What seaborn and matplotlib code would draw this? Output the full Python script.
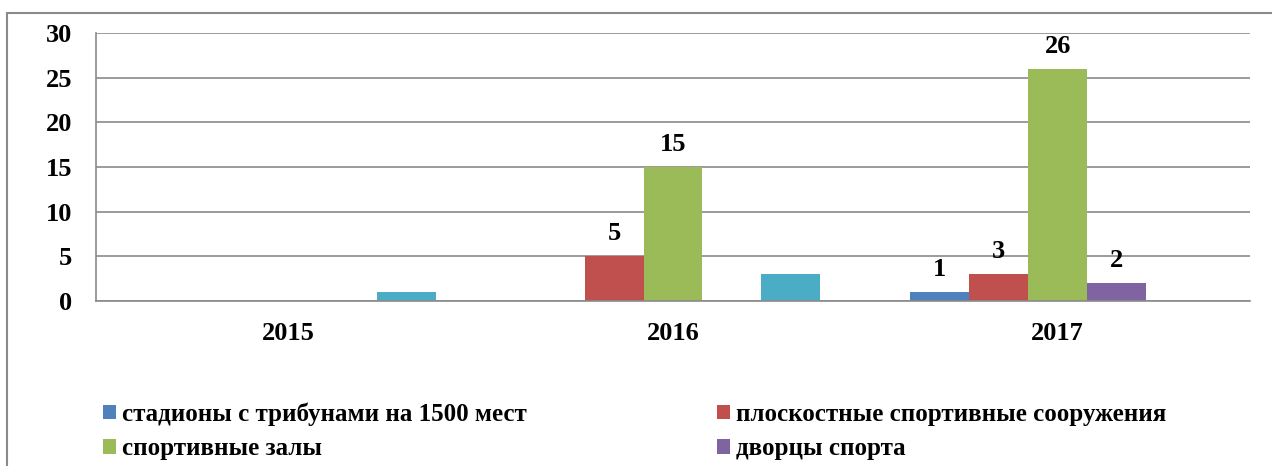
import pandas as pd
import matplotlib.pyplot as plt
import seaborn as sns
from matplotlib.patches import Rectangle, Patch

years = ['2015', '2016', '2017']
series = ['стадионы с трибунами на 1500 мест',
          'плоскостные спортивные сооружения',
          'спортивные залы',
          'дворцы спорта',
          'Ряд 5']
stadiums = [0, 0, 1]
flat_sites = [0, 5, 3]
halls = [0, 15, 26]
palaces = [0, 0, 2]
extra = [1, 3, 0]
colors = ['#4F81BD', '#C0504D', '#9BBB59', '#8064A2', '#4BACC6']

rows = []
for name, vals in zip(series, [stadiums, flat_sites, halls, palaces, extra]):
    for y, v in zip(years, vals):
        rows.append({'year': y, 'series': name, 'value': v})
data = pd.DataFrame(rows)

sns.set_style('white')
plt.rcParams['font.family'] = ['Liberation Serif', 'DejaVu Serif']
plt.rcParams['font.weight'] = 'bold'
plt.rcParams['text.color'] = 'black'
plt.rcParams['xtick.labelcolor'] = 'black'
plt.rcParams['ytick.labelcolor'] = 'black'

fig = plt.figure(figsize=(12.72, 4.66), dpi=100)
ax = fig.add_axes([96 / 1272, 1 - 301 / 466, (1250 - 96) / 1272, (301 - 33) / 466])

sns.barplot(data=data, x='year', y='value', hue='series', hue_order=series,
            palette=colors, width=0.766, saturation=1, ax=ax, legend=False,
            edgecolor='none', linewidth=0)

for i, cont in enumerate(ax.containers):
    if i == 4:
        continue
    labels = [str(int(v)) if v > 0 else '' for v in cont.datavalues]
    ax.bar_label(cont, labels=labels, padding=8, fontsize=19, fontweight='bold', color='black')

ax.set_xlim(-0.5, 2.5)
ax.set_ylim(0, 30)
ax.set_yticks([0, 5, 10, 15, 20, 25, 30])
ax.set_xlabel('')
ax.set_ylabel('')
ax.yaxis.grid(True, color='#8a8a8a', linewidth=1.2)
ax.set_axisbelow(True)
for s in ['top', 'right']:
    ax.spines[s].set_visible(False)
for s in ['left', 'bottom']:
    ax.spines[s].set_color('#8a8a8a')
    ax.spines[s].set_linewidth(1.2)

ax.tick_params(axis='y', length=6, width=1.2, color='#8a8a8a', labelsize=19, pad=11)
ax.tick_params(axis='x', which='major', length=0, labelsize=19, pad=15)
ax.set_xticks([-0.5, 0.5, 1.5, 2.5], minor=True)
ax.tick_params(axis='x', which='minor', length=7, width=1.2, color='#8a8a8a', direction='out')
for lab in ax.get_xticklabels() + ax.get_yticklabels():
    lab.set_fontweight('bold')

# legend rows: stadiums | flat sites, halls | palaces
order = [0, 2, 1, 3]
handles = [Patch(facecolor=colors[i], edgecolor='none') for i in order]
fig.legend(handles, [series[i] for i in order], loc='upper left',
           bbox_to_anchor=(80 / 1272, 1 - 380 / 466),
           ncol=2, frameon=False, prop={'size': 18, 'weight': 'bold'},
           handlelength=0.52, handleheight=0.52, handletextpad=0.25,
           columnspacing=7.6, labelspacing=0.45)

fig.patches.append(Rectangle((7 / 1272, -0.1), 1.2, 1 - 13 / 466 + 0.1,
                             transform=fig.transFigure, fill=False,
                             edgecolor='#8a8a8a', linewidth=1.5))

fig.savefig('out.png', dpi=100)
